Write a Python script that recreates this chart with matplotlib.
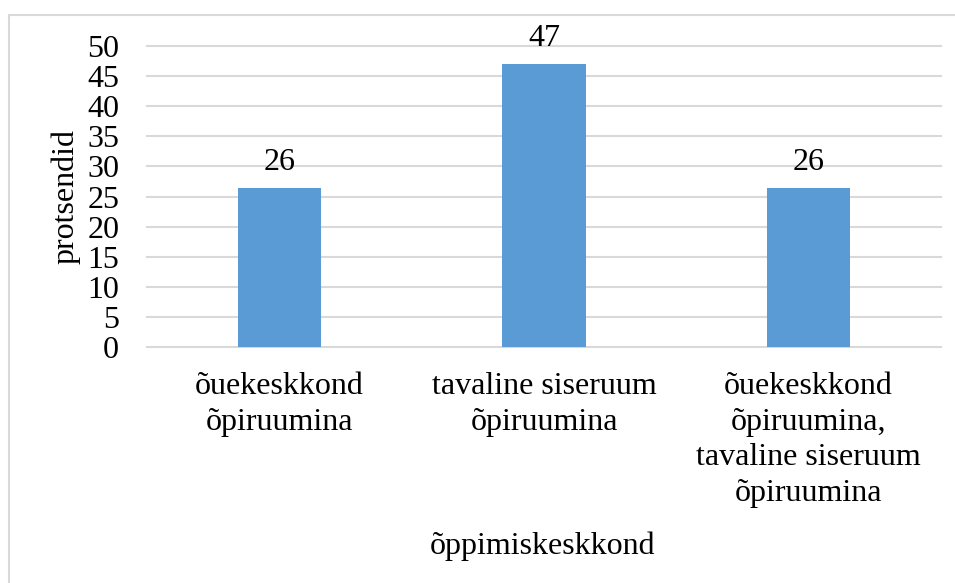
import matplotlib.pyplot as plt
from matplotlib.patches import Rectangle

plt.rcParams['font.family'] = ['Liberation Serif', 'DejaVu Serif']

categories = ['õuekeskkond\nõpiruumina',
              'tavaline siseruum\nõpiruumina',
              'õuekeskkond\nõpiruumina,\ntavaline siseruum\nõpiruumina']
values = [26.47, 47.06, 26.47]
y_ticks = [0, 5, 10, 15, 20, 25, 30, 35, 40, 45, 50]

W, H = 955, 583
fig = plt.figure(figsize=(W / 100, H / 100), dpi=100)
ax = fig.add_axes([147 / W, 1 - 347 / H, (941 - 147) / W, (347 - 46) / H])

# välimine raam
fig.patches.append(Rectangle((9 / W, -0.1), 1.2, 1.1 - 15 / H, transform=fig.transFigure,
                             fill=False, edgecolor='#d9d9d9', linewidth=1.5))

x = range(len(categories))
bars = ax.bar(x, values, width=0.314, color='#5b9bd5', zorder=3)
for b, v in zip(bars, values):
    ax.text(b.get_x() + b.get_width() / 2, v + 1.8, '%.0f' % v,
            ha='center', va='bottom', fontsize=23)

ax.set_xlim(-0.5, len(categories) - 0.5)
ax.set_ylim(0, 50)
ax.set_yticks(y_ticks)
ax.set_yticklabels([str(t) for t in y_ticks], fontsize=23)
ax.set_xticks(list(x))
ax.set_xticklabels(categories, fontsize=23, linespacing=1.3)
ax.tick_params(axis='y', length=0, pad=20)
ax.tick_params(axis='x', length=0, pad=18)
ax.grid(axis='y', color='#d9d9d9', linewidth=1.5, zorder=0)
for t in ax.get_ygridlines():
    t.set_clip_on(False)
for s in ax.spines.values():
    s.set_visible(False)

fig.text(66 / W, 1 - 196 / H, 'protsendid', rotation=90, ha='center', va='center', fontsize=23)
fig.text(543 / W, 1 - 546 / H, 'õppimiskeskkond', ha='center', va='center', fontsize=23)

fig.savefig('out.png', dpi=100)
